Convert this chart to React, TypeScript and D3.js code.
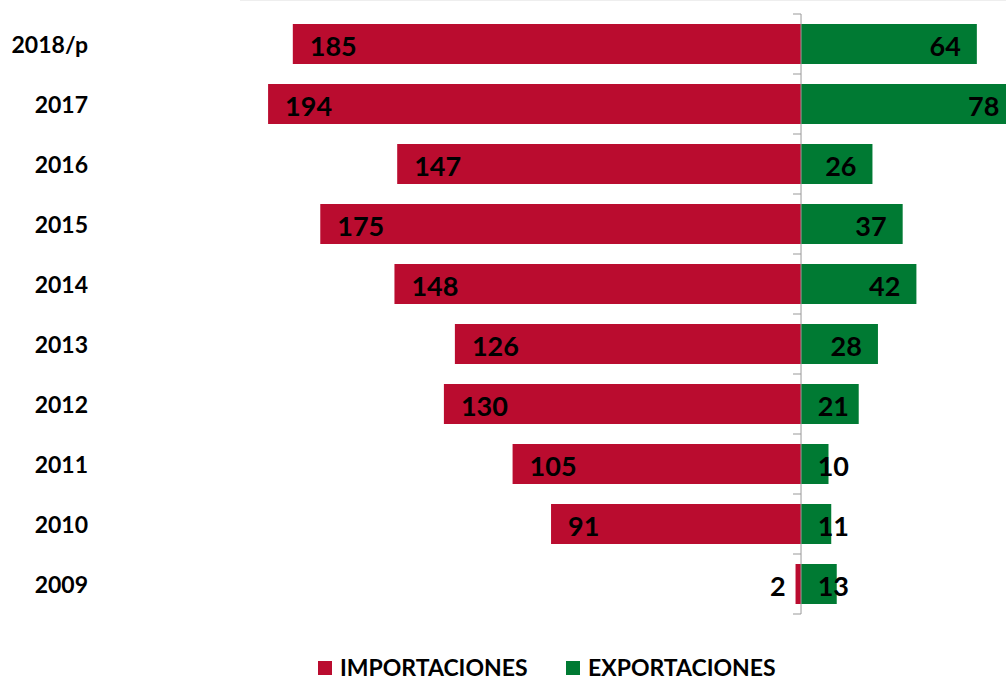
import React from "react";
import * as d3 from "d3";

const years = ["2018/p", "2017", "2016", "2015", "2014", "2013", "2012", "2011", "2010", "2009"];
const importaciones = [185, 194, 147, 175, 148, 126, 130, 105, 91, 2];
const exportaciones = [64, 78, 26, 37, 42, 28, 21, 10, 11, 13];
const legendLabels = ["IMPORTACIONES", "EXPORTACIONES"];

const RED = "#BA0C2F";
const GREEN = "#007A33";
const FONT = "Lato, 'Open Sans', sans-serif";

export default function App() {
  const W = 1006;
  const H = 677;
  const x = d3.scaleLinear().domain([-200, 80]).range([251.6, 1020.8]);
  const y = d3.scaleBand<string>().domain(years).range([14, 614]).paddingInner(1 / 3).paddingOuter(1 / 6);
  const x0 = x(0);
  const bw = y.bandwidth();
  const step = y.step();
  const boundaries = d3.range(years.length + 1).map((i) => 14 + i * step);

  return (
    <svg width={W} height={H} style={{ position: "absolute", left: 0, top: 0, display: "block" }}>
      <rect x={0} y={0} width={W} height={H} fill="#fff" />
      <line x1={240} x2={W} y1={0.5} y2={0.5} stroke="#eee" />
      {years.map((yr, i) => {
        const yy = y(yr)!;
        const xi = x(-importaciones[i]);
        const xe = x(exportaciones[i]);
        const cy = yy + bw / 2;
        const impLabelX = Math.min(xi + 17, x0 - 31);
        const expLabelX = Math.max(xe - 16, x0 + 48);
        return (
          <g key={yr}>
            <rect x={xi} y={yy} width={x0 - xi} height={bw} fill={RED} />
            <rect x={x0} y={yy} width={xe - x0} height={bw} fill={GREEN} />
            <text x={88} y={cy} textAnchor="end" dominantBaseline="central" fontFamily={FONT} fontWeight={700} fontSize={23} fill="#000">
              {yr}
            </text>
            <text x={impLabelX} y={cy + 1} textAnchor="start" dominantBaseline="central" fontFamily={FONT} fontWeight={700} fontSize={27} fill="#000">
              {importaciones[i]}
            </text>
            <text x={expLabelX} y={cy + 1} textAnchor="end" dominantBaseline="central" fontFamily={FONT} fontWeight={700} fontSize={27} fill="#000">
              {exportaciones[i]}
            </text>
          </g>
        );
      })}
      <line x1={x0} x2={x0} y1={14} y2={614} stroke="#999" strokeWidth={1} />
      {boundaries.map((b, i) => (
        <line key={i} x1={x0 - 8} x2={x0} y1={b} y2={b} stroke="#999" strokeWidth={1} />
      ))}
      <g>
        <rect x={318} y={661} width={14} height={14} fill={RED} />
        <text x={340} y={676} fontFamily={FONT} fontWeight={700} fontSize={23} fill="#000">
          {legendLabels[0]}
        </text>
        <rect x={566} y={661} width={14} height={14} fill={GREEN} />
        <text x={588} y={676} fontFamily={FONT} fontWeight={700} fontSize={23} fill="#000">
          {legendLabels[1]}
        </text>
      </g>
    </svg>
  );
}
